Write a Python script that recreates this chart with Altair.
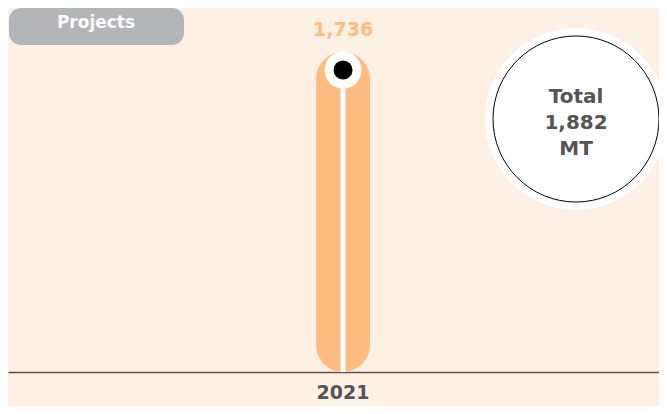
import altair as alt
import pandas as pd

# ---- data ----
years = ["2021"]
values = [1736]
total_lines = ["Total", "1,882", "MT"]
button_text = "Projects"

# ---- styles ----
BG = "#FFF0E4"
ORANGE = "#FFBC80"
GRAY_TEXT = "#555555"
BUTTON = "#B3B5B8"
FONT = "DejaVu Sans"

W, H = 651, 364
YMAX = 1975

df = pd.DataFrame({"year": years, "value": values})
one = pd.DataFrame({"k": [0]})

xenc = alt.X(
    "year:N",
    scale=alt.Scale(paddingInner=0, paddingOuter=1, align=0.522),
    axis=alt.Axis(
        title=None, labelAngle=0, ticks=False, labelFontSize=19,
        labelFontWeight="bold", labelColor=GRAY_TEXT, labelFont=FONT,
        domainColor=GRAY_TEXT, domainWidth=1.5, labelPadding=11, grid=False,
    ),
)
yscale = alt.Scale(domain=[0, YMAX], nice=False, zero=True)

base = alt.Chart(df).encode(x=xenc)

bar = base.mark_bar(size=54, cornerRadius=27, color=ORANGE).encode(
    y=alt.Y("value:Q", scale=yscale, axis=None)
)
rule = base.mark_rule(color="white", strokeWidth=5).encode(
    y=alt.Y("value:Q", scale=yscale), y2=alt.datum(0)
)
halo = base.mark_circle(color="white", size=1369, opacity=1, yOffset=18).encode(
    y=alt.Y("value:Q", scale=yscale)
)
dot = base.mark_circle(color="black", size=361, opacity=1, yOffset=18).encode(
    y=alt.Y("value:Q", scale=yscale)
)
label = base.mark_text(
    color=ORANGE, fontSize=19, fontWeight="bold", font=FONT, dy=-22, baseline="middle"
).encode(y=alt.Y("value:Q", scale=yscale), text=alt.Text("value:Q", format=","))

# ---- decorations ----
button = alt.Chart(one).mark_rect(color=BUTTON, cornerRadius=12).encode(
    x=alt.value(1), x2=alt.value(176), y=alt.value(0), y2=alt.value(37)
)
button_label = alt.Chart(one).mark_text(
    text=button_text, color="white", fontSize=17, fontWeight="bold", font=FONT,
    baseline="middle", align="center",
).encode(x=alt.value(88), y=alt.value(15))

total_halo = alt.Chart(one).mark_circle(color="white", size=33124, opacity=1).encode(
    x=alt.value(568), y=alt.value(111)
)
total_circle = alt.Chart(one).mark_point(
    shape="circle", filled=False, fill="white", stroke="black", strokeWidth=1,
    size=27556, opacity=1, fillOpacity=1,
).encode(x=alt.value(568), y=alt.value(111))
total_text = alt.Chart(one).mark_text(
    text=total_lines, color=GRAY_TEXT, fontSize=20, fontWeight="bold", font=FONT,
    lineHeight=26, baseline="middle", align="center",
).encode(x=alt.value(568), y=alt.value(89))

chart = alt.layer(
    button, button_label, total_halo, total_circle, total_text,
    bar, rule, halo, dot, label,
).properties(
    width=W, height=H, autosize="none",
    padding={"left": 0, "top": 0, "right": 0, "bottom": 34},
).configure(background=BG).configure_view(stroke=None)

chart.save("out.html", embed_options={"renderer": "svg", "actions": False})
